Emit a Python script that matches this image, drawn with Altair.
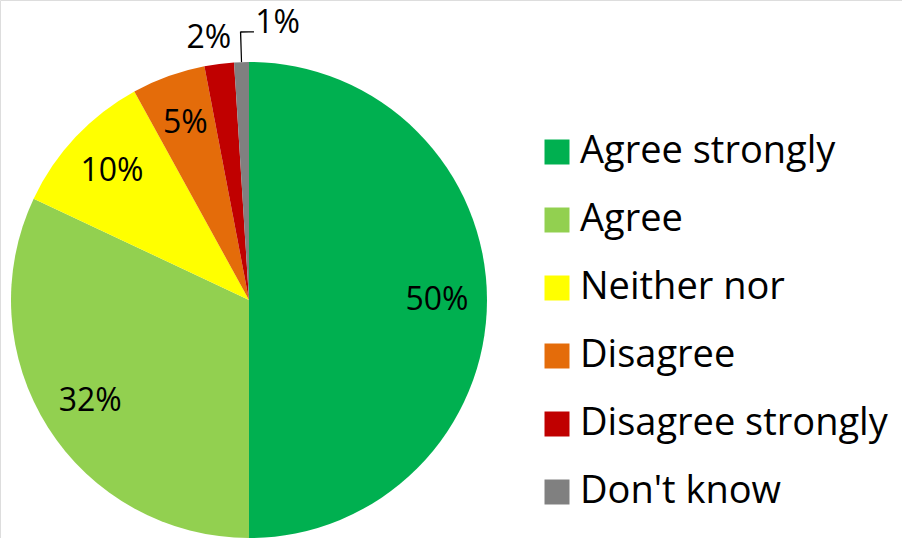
import altair as alt
import pandas as pd

categories = ["Agree strongly", "Agree", "Neither nor", "Disagree", "Disagree strongly", "Don't know"]
values = [50, 32, 10, 5, 2, 1]
colors = ["#00B050", "#92D050", "#FFFF00", "#E46C0A", "#C00000", "#808080"]

df = pd.DataFrame({"cat": categories, "value": values, "idx": list(range(len(values)))})

FONT = "Open Sans"
CX, CY, R = 249, 300, 238

base = alt.Chart(df).transform_window(
    cum="sum(value)", sort=[alt.SortField("idx")], frame=[None, 0]
).transform_joinaggregate(
    total="sum(value)"
).transform_calculate(
    start="(datum.cum - datum.value) / datum.total * 2 * PI",
    end="datum.cum / datum.total * 2 * PI",
    mid="(datum.cum - datum.value / 2) / datum.total * 2 * PI",
    pct="round(datum.value / datum.total * 100) + '%'",
)

pie = base.mark_arc(stroke=None).encode(
    theta=alt.Theta("start:Q", scale=None, stack=False),
    theta2="end:Q",
    radius=alt.value(R),
    x=alt.value(CX),
    y=alt.value(CY),
    color=alt.Color(
        "cat:N",
        scale=alt.Scale(domain=categories, range=colors),
        legend=alt.Legend(
            title=None,
            orient="none",
            legendX=538,
            legendY=133,
            symbolType="square",
            symbolSize=625,
            symbolStrokeWidth=0,
            symbolOpacity=1,
            labelFont=FONT,
            labelFontSize=38,
            labelColor="#000000",
            labelOffset=4,
            rowPadding=30,
            padding=0,
            labelLimit=400,
        ),
    ),
)

inside = base.transform_filter("datum.value >= 5").mark_text(
    font=FONT, fontSize=32, color="#000000", align="center", baseline="middle"
).encode(
    theta=alt.Theta("mid:Q", scale=None, stack=False),
    radius=alt.value(188),
    x=alt.value(CX),
    y=alt.value(CY),
    text="pct:N",
)

outside2 = base.transform_filter("datum.value >= 2 && datum.value < 5").mark_text(
    font=FONT, fontSize=32, color="#000000", align="center", baseline="middle", dx=-7
).encode(
    theta=alt.Theta("mid:Q", scale=None, stack=False),
    radius=alt.value(264),
    x=alt.value(CX),
    y=alt.value(CY),
    text="pct:N",
)

small = base.transform_filter("datum.value < 2")

outside1 = small.mark_text(
    font=FONT, fontSize=32, color="#000000", align="center", baseline="middle", dx=37, dy=-9
).encode(
    theta=alt.Theta("mid:Q", scale=None, stack=False),
    radius=alt.value(268),
    x=alt.value(CX),
    y=alt.value(CY),
    text="pct:N",
)

leader_v = small.transform_calculate(
    a="datum.mid - 0.0025", b="datum.mid + 0.0025"
).mark_arc(color="#000000", stroke=None).encode(
    theta=alt.Theta("a:Q", scale=None, stack=False),
    theta2="b:Q",
    radius=alt.value(268.5),
    radius2=alt.value(R),
    x=alt.value(CX),
    y=alt.value(CY),
)

leader_h = small.transform_calculate(
    a="datum.mid", b="datum.mid + 0.05"
).mark_arc(color="#000000", stroke=None).encode(
    theta=alt.Theta("a:Q", scale=None, stack=False),
    theta2="b:Q",
    radius=alt.value(268.8),
    radius2=alt.value(267.5),
    x=alt.value(CX),
    y=alt.value(CY),
)

chart = alt.layer(pie, inside, outside2, outside1, leader_v, leader_h).properties(
    width=902, height=538, padding=0, autosize=alt.AutoSizeParams(type="none")
).configure_view(stroke=None).configure(background="#FFFFFF")

chart.save("out.html", embed_options={"renderer": "svg", "actions": False})
